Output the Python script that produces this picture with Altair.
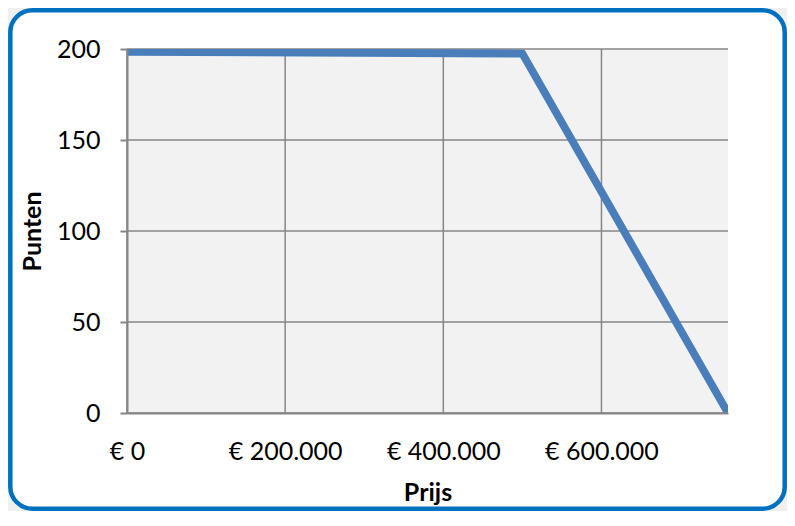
import altair as alt
import pandas as pd

# Data
prijs = [0, 500000, 760000]
punten = [198.5, 197.5, 0]
x_ticks = [0, 200000, 400000, 600000]
y_ticks = [0, 50, 100, 150, 200]

df = pd.DataFrame({"Prijs": prijs, "Punten": punten})
df_xt = pd.DataFrame({"Prijs": x_ticks})
df_yt = pd.DataFrame({"Punten": y_ticks})

FONT = "Lato"
GRID = "#868686"

W, H = 601, 364
PAD_L, PAD_T = 119, 41
SVG_W, SVG_H = 779, 503

xscale = alt.Scale(domain=[0, 760000], nice=False, zero=False)
yscale = alt.Scale(domain=[0, 200], nice=False)

frame = alt.Chart(pd.DataFrame({"a": [0]})).mark_rect(
    fill="white", stroke="#0070C0", strokeWidth=4.5, cornerRadius=22, clip=False
).encode(
    x=alt.value(-PAD_L + 2.3),
    x2=alt.value(SVG_W - PAD_L - 2.3),
    y=alt.value(-PAD_T + 2.3),
    y2=alt.value(SVG_H - PAD_T - 2.3),
)

plotbg = alt.Chart(pd.DataFrame({"a": [0]})).mark_rect(fill="#f2f2f2").encode(
    x=alt.value(0), x2=alt.value(W), y=alt.value(0), y2=alt.value(H)
)

vgrid = alt.Chart(df_xt).mark_rule(color=GRID, strokeWidth=1.5).encode(
    x=alt.X("Prijs:Q", scale=xscale), y=alt.value(0), y2=alt.value(H)
)
hgrid = alt.Chart(df_yt).mark_rule(color=GRID, strokeWidth=1.5).encode(
    y=alt.Y("Punten:Q", scale=yscale), x=alt.value(0), x2=alt.value(W)
)

line = alt.Chart(df).mark_line(
    color="#4a7ebb", strokeWidth=7.8, clip=True, strokeCap="butt", strokeJoin="miter"
).encode(
    x=alt.X(
        "Prijs:Q",
        scale=xscale,
        axis=alt.Axis(
            values=x_ticks,
            labelExpr="'€ ' + replace(format(datum.value, ',.0f'), /,/g, '.')",
            grid=False,
            domain=True,
            domainColor=GRID,
            domainWidth=2,
            ticks=False,
            labelPadding=26,
            labelFont=FONT,
            labelFontSize=25,
            labelColor="black",
            labelOverlap=False,
            labelFlush=False,
            title="Prijs",
            titleFont=FONT,
            titleFontSize=25,
            titleFontWeight="bold",
            titleColor="black",
            titleX=W / 2,
            titleY=79,
            titleAlign="center",
            titleBaseline="middle",
            zindex=1,
        ),
    ),
    y=alt.Y(
        "Punten:Q",
        scale=yscale,
        axis=alt.Axis(
            values=y_ticks,
            grid=False,
            domain=True,
            domainColor=GRID,
            domainWidth=2,
            ticks=True,
            tickSize=7,
            tickColor=GRID,
            tickWidth=2,
            labelPadding=20,
            labelFont=FONT,
            labelFontSize=25,
            labelColor="black",
            labelFlush=False,
            title="Punten",
            titleFont=FONT,
            titleFontSize=25,
            titleFontWeight="bold",
            titleColor="black",
            titleAngle=-90,
            titleX=-95,
            titleY=H / 2,
            titleAlign="center",
            titleBaseline="middle",
            zindex=1,
        ),
    ),
)

chart = alt.layer(frame, plotbg, vgrid, hgrid, line).properties(
    width=W,
    height=H,
    autosize=alt.AutoSizeParams(type="none"),
    padding={"left": PAD_L, "top": PAD_T, "right": SVG_W - PAD_L - W, "bottom": SVG_H - PAD_T - H},
    background="#f0f0f0",
).configure_view(stroke=None)

chart.save("out.html", embed_options={"renderer": "svg", "actions": False})
